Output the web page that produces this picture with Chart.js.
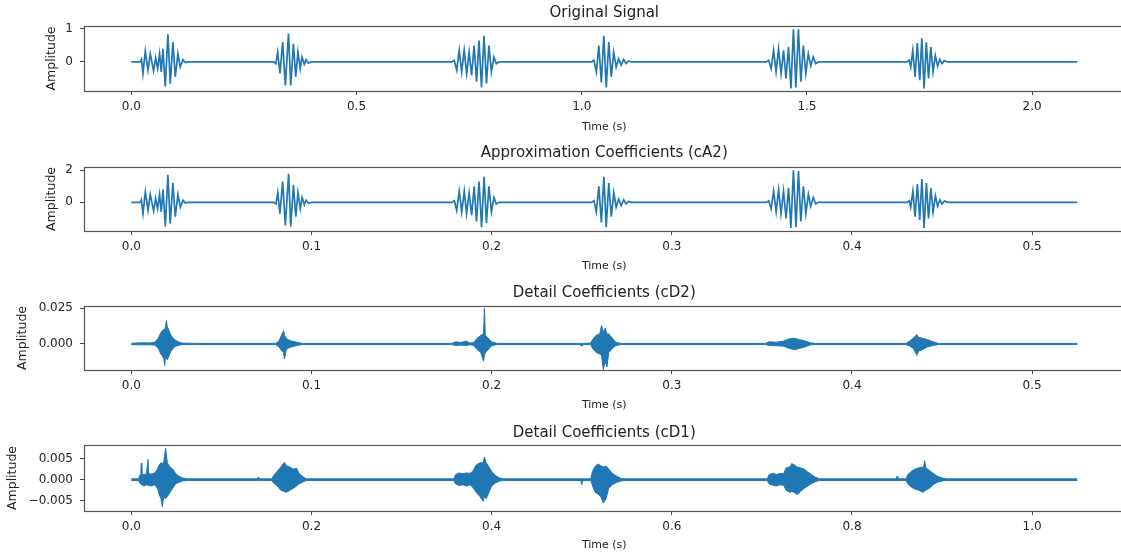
<!DOCTYPE html>
<html>
<head>
<meta charset="utf-8">
<title>Wavelet decomposition</title>
<script src="https://cdn.jsdelivr.net/npm/chart.js@4.4.1/dist/chart.umd.min.js"></script>
<style>
  body { margin: 0; background: #fff; overflow: hidden; width: 1121px; height: 556px; position: relative; }
  .panel { position: absolute; left: 0; }
</style>
</head>
<body>
<div class="panel" style="top:3px"><canvas id="orig" width="1126" height="131"></canvas></div>
<div class="panel" style="top:143px"><canvas id="ca2" width="1126" height="130"></canvas></div>
<div class="panel" style="top:283px"><canvas id="cd2" width="1126" height="129"></canvas></div>
<div class="panel" style="top:423px"><canvas id="cd1" width="1126" height="129"></canvas></div>
<script>
const lineColor = "#1f77b4";
const textColor = "#222";

// Original signal (peaks, burst by burst)
const origTime = [
  0, 0.018, 0.020, 0.0225, 0.0259, 0.0310, 0.0370, 0.0421, 0.0495, 0.0540, 0.0585, 0.0628, 0.0665, 0.0702, 0.0754, 0.0813, 0.0865, 0.0924, 0.0976, 0.1035, 0.1087, 0.1146, 0.1200, 0.125,
  0.316, 0.321, 0.325, 0.330, 0.336, 0.342, 0.349, 0.354, 0.360, 0.365, 0.370, 0.375, 0.379, 0.384, 0.388, 0.393, 0.400,
  0.712, 0.717, 0.7225, 0.728, 0.7335, 0.739, 0.7445, 0.750, 0.7555, 0.761, 0.7665, 0.772, 0.7775, 0.783, 0.7885, 0.794, 0.7995, 0.805, 0.8105, 0.816,
  1.022, 1.027, 1.0325, 1.038, 1.0435, 1.049, 1.0545, 1.060, 1.0655, 1.071, 1.0765, 1.082, 1.0875, 1.093, 1.0985, 1.104, 1.110,
  1.410, 1.415, 1.4205, 1.426, 1.4315, 1.437, 1.4425, 1.448, 1.4535, 1.459, 1.4645, 1.470, 1.4755, 1.481, 1.4865, 1.492, 1.4975, 1.503, 1.5085, 1.514, 1.5195, 1.525,
  1.722, 1.727, 1.7305, 1.735, 1.740, 1.745, 1.7505, 1.755, 1.760, 1.765, 1.770, 1.775, 1.780, 1.785, 1.790, 1.795, 1.800, 1.805, 1.812, 2.100
];
const origAmp = [
  0, 0, 0, 0.08, -0.35, 0.33, -0.25, 0.25, -0.27, 0.12, -0.2, 0.25, -0.3, 0.4, -0.74, 0.84, -0.66, 0.6, -0.45, 0.25, -0.15, 0.07, -0.02, 0,
  0, -0.05, 0.3, -0.35, 0.6, -0.71, 0.86, -0.71, 0.55, -0.45, 0.3, -0.2, 0.15, -0.07, 0.07, -0.03, 0,
  0, 0.05, -0.25, 0.35, -0.3, 0.35, -0.35, 0.3, -0.4, 0.5, -0.6, 0.65, -0.77, 0.79, -0.65, 0.5, -0.3, 0.15, -0.05, 0,
  0, 0.05, -0.3, 0.5, -0.62, 0.79, -0.77, 0.6, -0.45, 0.3, -0.15, 0.1, -0.1, 0.08, -0.05, 0.03, 0,
  0, 0.05, -0.2, 0.35, -0.3, 0.4, -0.35, 0.35, -0.5, 0.45, -0.8, 0.99, -0.77, 0.99, -0.6, 0.5, -0.35, 0.25, -0.12, 0.15, -0.05, 0,
  0, 0.05, -0.15, 0.35, -0.45, 0.57, -0.55, 0.72, -0.8, 0.6, -0.5, 0.45, -0.3, 0.2, -0.12, 0.08, -0.05, 0.04, 0, 0
];
const origXTicks = [0, 0.5, 1.0, 1.5, 2.0];
const origYTicks = [0, 1];

// Approximation coefficients cA2
const cA2Time = [
  0, 0.0045, 0.005, 0.0056, 0.0065, 0.0078, 0.0093, 0.0105, 0.0124, 0.0135, 0.0146, 0.0157, 0.0166, 0.0176, 0.0189, 0.0203, 0.0216, 0.0231, 0.0244, 0.0259, 0.0272, 0.0287, 0.0300, 0.0313,
  0.079, 0.0803, 0.0813, 0.0825, 0.084, 0.0855, 0.0873, 0.0885, 0.09, 0.0913, 0.0925, 0.0938, 0.0948, 0.096, 0.097, 0.0983, 0.1,
  0.178, 0.1793, 0.1806, 0.182, 0.1834, 0.1848, 0.1861, 0.1875, 0.1889, 0.1903, 0.1916, 0.193, 0.1944, 0.1958, 0.1971, 0.1985, 0.1999, 0.2013, 0.2026, 0.204,
  0.2555, 0.2568, 0.2581, 0.2595, 0.2609, 0.2623, 0.2636, 0.265, 0.2664, 0.2678, 0.2691, 0.2705, 0.2719, 0.2733, 0.2746, 0.276, 0.2775,
  0.3525, 0.3538, 0.3551, 0.3565, 0.3579, 0.3593, 0.3606, 0.362, 0.3634, 0.3648, 0.3661, 0.3675, 0.3689, 0.3703, 0.3716, 0.373, 0.3744, 0.3758, 0.3771, 0.3785, 0.3799, 0.3813,
  0.4305, 0.4318, 0.4326, 0.4338, 0.435, 0.4363, 0.4376, 0.4388, 0.44, 0.4413, 0.4425, 0.4438, 0.445, 0.4463, 0.4475, 0.4488, 0.45, 0.4513, 0.453, 0.525
];
const cA2Amp = [
  0, 0, 0, 0.16, -0.7, 0.66, -0.5, 0.5, -0.54, 0.24, -0.4, 0.5, -0.6, 0.8, -1.5, 1.72, -1.32, 1.2, -0.9, 0.5, -0.3, 0.14, -0.04, 0,
  0, -0.1, 0.6, -0.7, 1.3, -1.45, 1.78, -1.5, 1.1, -0.9, 0.6, -0.4, 0.3, -0.14, 0.14, -0.06, 0,
  0, 0.1, -0.5, 0.7, -0.6, 0.7, -0.7, 0.6, -0.8, 1.0, -1.2, 1.3, -1.55, 1.6, -1.3, 1.0, -0.6, 0.3, -0.1, 0,
  0, 0.1, -0.6, 1.0, -1.25, 1.6, -1.55, 1.2, -0.9, 0.6, -0.3, 0.2, -0.2, 0.16, -0.1, 0.06, 0,
  0, 0.1, -0.4, 0.7, -0.6, 0.8, -0.7, 0.7, -1.0, 0.9, -1.6, 2.0, -1.55, 1.95, -1.2, 1.0, -0.7, 0.5, -0.25, 0.3, -0.1, 0,
  0, 0.1, -0.3, 0.7, -0.9, 1.15, -1.1, 1.45, -1.6, 1.2, -1.0, 0.9, -0.6, 0.4, -0.24, 0.16, -0.1, 0.08, 0, 0
];
const cA2XTicks = [0, 0.1, 0.2, 0.3, 0.4, 0.5];
const cA2YTicks = [0, 2];

// Detail coefficients cD2 - too dense to follow, so upper / lower envelope
const cD2Time = [
  0, 0.002, 0.006, 0.010, 0.013, 0.015, 0.016, 0.017, 0.018, 0.0185, 0.019, 0.0195, 0.020, 0.021, 0.022, 0.024, 0.026, 0.028, 0.035,
  0.080, 0.082, 0.083, 0.0845, 0.085, 0.086, 0.087, 0.089, 0.092, 0.095,
  0.178, 0.180, 0.183, 0.186, 0.188, 0.190, 0.192, 0.194, 0.1955, 0.196, 0.1965, 0.198, 0.200, 0.203,
  0.249, 0.250, 0.251, 0.255, 0.256, 0.258, 0.260, 0.261, 0.262, 0.263, 0.264, 0.265, 0.267, 0.269, 0.272,
  0.352, 0.354, 0.358, 0.362, 0.365, 0.368, 0.371, 0.374, 0.377, 0.380,
  0.430, 0.432, 0.434, 0.436, 0.437, 0.439, 0.442, 0.445, 0.448, 0.525
];
const cD2Upper = [
  0.0004, 0.0006, 0.0008, 0.0007, 0.0012, 0.004, 0.007, 0.009, 0.010, 0.010, 0.012, 0.0162, 0.012, 0.009, 0.006, 0.003, 0.0015, 0.0006, 0.0004,
  0.0004, 0.002, 0.005, 0.0092, 0.006, 0.004, 0.003, 0.002, 0.0012, 0.0004,
  0.0004, 0.0015, 0.001, 0.002, 0.0006, 0.001, 0.004, 0.006, 0.007, 0.025, 0.006, 0.004, 0.0015, 0.0004,
  0.0004, 0.0004, 0.0004, 0.0006, 0.003, 0.006, 0.007, 0.013, 0.008, 0.011, 0.007, 0.007, 0.004, 0.001, 0.0004,
  0.0004, 0.0015, 0.0012, 0.002, 0.0035, 0.004, 0.003, 0.002, 0.0008, 0.0004,
  0.0004, 0.002, 0.004, 0.0065, 0.0045, 0.004, 0.003, 0.0015, 0.0004, 0.0004
];
const cD2Lower = [
  -0.0004, -0.0005, -0.0006, -0.0005, -0.0008, -0.003, -0.006, -0.008, -0.010, -0.015, -0.009, -0.010, -0.011, -0.008, -0.005, -0.002, -0.001, -0.0005, -0.0004,
  -0.0004, -0.002, -0.004, -0.006, -0.0104, -0.004, -0.003, -0.002, -0.001, -0.0004,
  -0.0004, -0.001, -0.0008, -0.001, -0.0005, -0.001, -0.004, -0.006, -0.012, -0.008, -0.006, -0.004, -0.0012, -0.0004,
  -0.0004, -0.0015, -0.0004, -0.0005, -0.003, -0.006, -0.007, -0.008, -0.0178, -0.012, -0.016, -0.006, -0.003, -0.001, -0.0004,
  -0.0004, -0.001, -0.0012, -0.0015, -0.003, -0.004, -0.003, -0.002, -0.0006, -0.0004,
  -0.0004, -0.0015, -0.003, -0.0079, -0.005, -0.004, -0.002, -0.001, -0.0004, -0.0004
];
const cD2YTicks = [0, 0.025];

// Detail coefficients cD1, envelope as well
const cD1Time = [
  0, 0.008, 0.0093, 0.0105, 0.0111, 0.0117, 0.014, 0.017, 0.0185, 0.0192, 0.022, 0.026, 0.029, 0.031, 0.033, 0.0344, 0.036, 0.0381, 0.040, 0.043, 0.046, 0.049, 0.053, 0.057, 0.062,
  0.140, 0.1407, 0.1414, 0.156, 0.158, 0.162, 0.166, 0.170, 0.172, 0.176, 0.180, 0.1835, 0.186, 0.190, 0.194,
  0.358, 0.360, 0.364, 0.368, 0.372, 0.376, 0.379, 0.383, 0.387, 0.3905, 0.3919, 0.394, 0.397, 0.400, 0.404, 0.409, 0.413,
  0.499, 0.5, 0.501, 0.510, 0.512, 0.515, 0.5185, 0.521, 0.5241, 0.527, 0.530, 0.534, 0.539, 0.544, 0.548,
  0.706, 0.708, 0.712, 0.716, 0.720, 0.724, 0.727, 0.731, 0.733, 0.736, 0.739, 0.743, 0.747, 0.751, 0.755, 0.760, 0.764,
  0.849, 0.850, 0.851, 0.860, 0.862, 0.866, 0.870, 0.874, 0.8795, 0.8807, 0.882, 0.886, 0.890, 0.895, 0.900, 0.905, 1.05
];
const cD1Upper = [
  0.0002, 0.0002, 0.001, 0.0012, 0.0039, 0.0012, 0.0012, 0.0014, 0.0048, 0.0015, 0.0013, 0.0016, 0.0025, 0.0035, 0.004, 0.0038, 0.0042, 0.0074, 0.004, 0.003, 0.0025, 0.0015, 0.0008, 0.0004, 0.0002,
  0.0002, 0.0006, 0.0002, 0.0002, 0.001, 0.002, 0.003, 0.0041, 0.0033, 0.003, 0.0025, 0.0027, 0.0015, 0.0008, 0.0002,
  0.0002, 0.0012, 0.0016, 0.0014, 0.0016, 0.0015, 0.002, 0.0035, 0.004, 0.004, 0.0053, 0.004, 0.003, 0.002, 0.001, 0.0004, 0.0002,
  0.0002, 0.0002, 0.0002, 0.0002, 0.002, 0.0032, 0.0037, 0.0033, 0.003, 0.0032, 0.0025, 0.0015, 0.0008, 0.0003, 0.0002,
  0.0002, 0.0012, 0.0015, 0.0012, 0.0015, 0.0014, 0.0028, 0.003, 0.0038, 0.0035, 0.003, 0.0028, 0.0025, 0.0018, 0.0012, 0.0005, 0.0002,
  0.0002, 0.0008, 0.0002, 0.0002, 0.0012, 0.002, 0.0025, 0.0028, 0.003, 0.0045, 0.0028, 0.0022, 0.0015, 0.0008, 0.0004, 0.0002, 0.0002
];
const cD1Lower = [
  -0.0002, -0.0002, -0.0008, -0.001, -0.001, -0.0012, -0.0015, -0.0012, -0.0014, -0.0013, -0.0015, -0.0012, -0.002, -0.0035, -0.0045, -0.0064, -0.004, -0.0045, -0.004, -0.003, -0.002, -0.001, -0.0006, -0.0003, -0.0002,
  -0.0002, -0.0002, -0.0002, -0.0002, -0.0008, -0.0015, -0.0025, -0.0028, -0.003, -0.0025, -0.002, -0.0015, -0.001, -0.0006, -0.0002,
  -0.0002, -0.001, -0.0014, -0.0012, -0.0015, -0.0012, -0.0018, -0.003, -0.004, -0.0051, -0.004, -0.0045, -0.003, -0.0015, -0.0008, -0.0003, -0.0002,
  -0.0002, -0.0012, -0.0002, -0.0002, -0.0015, -0.003, -0.0035, -0.004, -0.0055, -0.0045, -0.002, -0.0012, -0.0006, -0.0003, -0.0002,
  -0.0002, -0.001, -0.0013, -0.0015, -0.0012, -0.0013, -0.0025, -0.003, -0.0028, -0.003, -0.0035, -0.0028, -0.002, -0.0015, -0.0009, -0.0004, -0.0002,
  -0.0002, -0.0002, -0.0002, -0.0002, -0.001, -0.0018, -0.0022, -0.0025, -0.003, -0.0025, -0.0025, -0.002, -0.0012, -0.0006, -0.0003, -0.0002, -0.0002
];
const cD1XTicks = [0, 0.2, 0.4, 0.6, 0.8, 1.0];
const cD1YTicks = [-0.005, 0, 0.005];

function toPoints(xs, ys) {
  return xs.map((x, i) => ({ x: x, y: ys[i] }));
}

function signalDataset(xs, ys) {
  return [{ data: toPoints(xs, ys), borderColor: lineColor, borderWidth: 1.7, fill: false }];
}

// upper and lower envelope, filled between them
function envelopeDatasets(xs, upper, lower) {
  return [
    { data: toPoints(xs, upper), borderColor: lineColor, borderWidth: 1, fill: false },
    { data: toPoints(xs, lower), borderColor: lineColor, borderWidth: 1, backgroundColor: lineColor, fill: "-1" },
  ];
}

function fmt(v, digits) {
  const s = Math.abs(v).toFixed(digits);
  return v < 0 ? "\u2212" + s : s;
}

// box round the plot area, like matplotlib spines
const spinePlugin = {
  id: "spines",
  afterDraw(chart) {
    const { ctx, chartArea } = chart;
    ctx.save();
    ctx.strokeStyle = "#555";
    ctx.lineWidth = 1.2;
    ctx.strokeRect(Math.round(chartArea.left) + 0.5, Math.round(chartArea.top) + 0.5,
      chartArea.right - chartArea.left, Math.round(chartArea.bottom - chartArea.top));
    ctx.restore();
  },
};

const tickFont = { family: "DejaVu Sans", size: 12 };

function buildChart(id, cfg) {
  return new Chart(document.getElementById(id), {
    type: "line",
    data: { datasets: cfg.datasets },
    options: {
      responsive: false,
      animation: false,
      devicePixelRatio: 1,
      layout: { padding: { left: 0, right: 1.5, top: 0, bottom: 0 } },
      elements: { point: { radius: 0 }, line: { tension: 0 } },
      plugins: {
        legend: { display: false },
        tooltip: { enabled: false },
        title: {
          display: true,
          text: cfg.title,
          fullSize: false,
          color: textColor,
          font: { family: "DejaVu Sans", size: 15, weight: "normal", lineHeight: "16px" },
          padding: { top: 2, bottom: cfg.titleGap },
        },
      },
      scales: {
        x: {
          type: "linear",
          min: cfg.xMin,
          max: cfg.xMax,
          afterBuildTicks: (scale) => { scale.ticks = cfg.xTicks.map((v) => ({ value: v })); },
          afterFit: (scale) => { scale.height = cfg.xHeight; },
          ticks: { color: textColor, font: tickFont, padding: 5, maxRotation: 0, callback: (v) => fmt(v, 1) },
          grid: { display: true, drawOnChartArea: false, drawTicks: true, tickLength: 4, color: "#444" },
          border: { display: false },
          title: { display: true, text: "Time (s)", color: textColor, font: { family: "DejaVu Sans", size: 11 }, padding: { top: 0, bottom: 0 } },
        },
        y: {
          min: cfg.yMin,
          max: cfg.yMax,
          afterBuildTicks: (scale) => { scale.ticks = cfg.yTicks.map((v) => ({ value: v })); },
          afterFit: (scale) => { scale.width = 84; },
          ticks: { color: textColor, font: tickFont, padding: 7, callback: (v) => fmt(v, cfg.yDigits) },
          grid: { display: true, drawOnChartArea: false, drawTicks: true, tickLength: 4, color: "#444" },
          border: { display: false },
          title: { display: true, text: "Amplitude", color: textColor, font: { family: "DejaVu Sans", size: 12.5 }, padding: { top: cfg.yTitleLeft, bottom: 0 } },
        },
      },
    },
    plugins: [spinePlugin],
  });
}

buildChart("orig", {
  title: "Original Signal",
  datasets: signalDataset(origTime, origAmp),
  titleGap: 5, xHeight: 43,
  xMin: -0.105, xMax: 2.205, xTicks: origXTicks,
  yMin: -0.88, yMax: 1.09, yTicks: origYTicks, yDigits: 0, yTitleLeft: 44,
});

buildChart("ca2", {
  title: "Approximation Coefficients (cA2)",
  datasets: signalDataset(cA2Time, cA2Amp),
  titleGap: 6, xHeight: 42,
  xMin: -0.02625, xMax: 0.55125, xTicks: cA2XTicks,
  yMin: -1.79, yMax: 2.21, yTicks: cA2YTicks, yDigits: 0, yTitleLeft: 44,
});

buildChart("cd2", {
  title: "Detail Coefficients (cD2)",
  datasets: envelopeDatasets(cD2Time, cD2Upper, cD2Lower),
  titleGap: 5, xHeight: 42,
  xMin: -0.02625, xMax: 0.55125, xTicks: cA2XTicks,
  yMin: -0.0181, yMax: 0.0264, yTicks: cD2YTicks, yDigits: 3, yTitleLeft: 15,
});

buildChart("cd1", {
  title: "Detail Coefficients (cD1)",
  datasets: envelopeDatasets(cD1Time, cD1Upper, cD1Lower),
  titleGap: 4, xHeight: 41,
  xMin: -0.0525, xMax: 1.1025, xTicks: cD1XTicks,
  yMin: -0.0074, yMax: 0.0082, yTicks: cD1YTicks, yDigits: 3, yTitleLeft: 5,
});
</script>
</body>
</html>
